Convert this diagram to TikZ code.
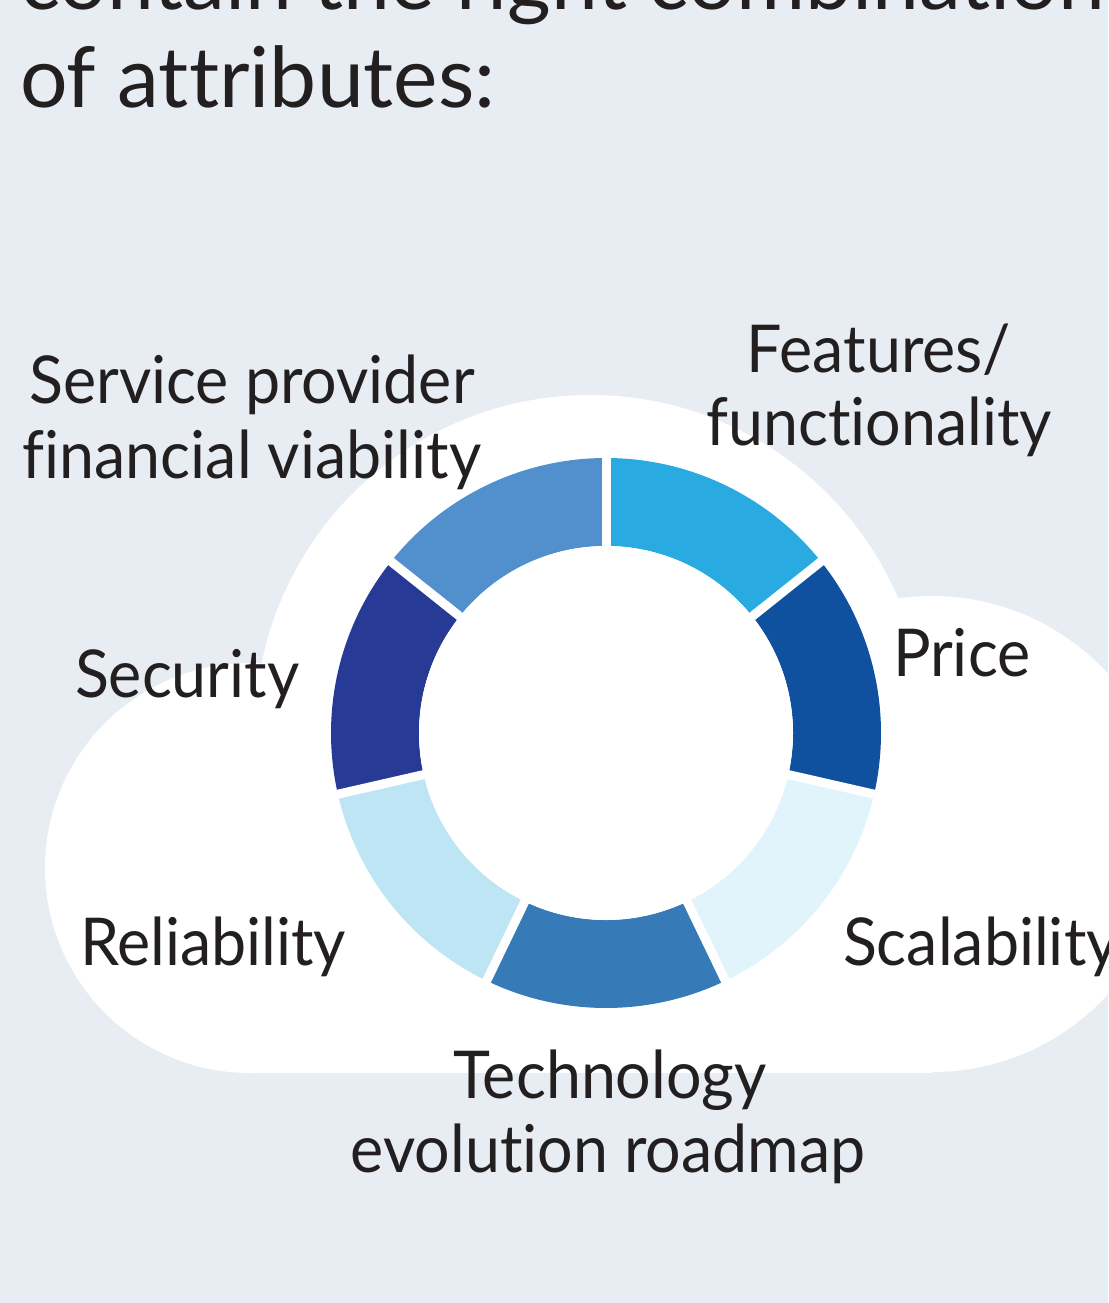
\documentclass[tikz,border=0pt]{standalone}
\usepackage{fontspec}
\setmainfont{Lato}[Ligatures={NoCommon,NoDiscretionary}]
\newfontfamily\labelfont{Lato}[Ligatures={NoCommon,NoDiscretionary},FakeStretch=0.95]
\begin{document}
\begin{tikzpicture}[x=1pt,y=1pt,
  lbl/.style={inner sep=0pt,outer sep=0pt,text=inkdark,font=\labelfont\fontsize{66}{80}\selectfont},
  ttl/.style={inner sep=0pt,outer sep=0pt,text=inkdark,font=\fontsize{84}{100}\selectfont},
  gapline/.style={white,line width=9pt}]
\definecolor{bgpanel}{HTML}{E7EDF2}
\definecolor{inkdark}{HTML}{231F20}
\definecolor{segA}{HTML}{29ABE2}
\definecolor{segB}{HTML}{10519F}
\definecolor{segC}{HTML}{E1F3FB}
\definecolor{segD}{HTML}{367AB8}
\definecolor{segE}{HTML}{BEE5F4}
\definecolor{segF}{HTML}{263A96}
\definecolor{segG}{HTML}{5290CD}

% page and background
\useasboundingbox (0,0) rectangle (1108,-1303);
\fill[bgpanel] (0,0) rectangle (1108,-1303);

\begin{scope}
\clip (0,0) rectangle (1108,-1303);

% cloud
\fill[white] (250,-868) circle[radius=205];
\fill[white] (590,-730) circle[radius=335];
\fill[white] (932,-834) circle[radius=238];
\fill[white] (250,-800) rectangle (932,-1073);

% heading
\node[ttl,anchor=base west] (head1) at (20,-10) {contain the right combination};
\node[ttl,anchor=base west] (head2) at (20,-108) {of attributes:};

% ring of seven attributes
\coordinate (ctr) at (606,-733);
\def\Ro{275}
\def\Ri{187}
\foreach \a/\b/\c in {90/38.571/segA, 38.571/-12.857/segB, -12.857/-64.286/segC,
    -64.286/-115.714/segD, -115.714/-167.143/segE, -167.143/-218.571/segF,
    -218.571/-270/segG}{
  \fill[\c] ([shift={(\a:\Ro)}]ctr) arc[start angle=\a,end angle=\b,radius=\Ro]
     -- ([shift={(\b:\Ri)}]ctr) arc[start angle=\b,end angle=\a,radius=\Ri] -- cycle;
}
\foreach \a in {90,38.571,-12.857,-64.286,-115.714,-167.143,-218.571}{
  \draw[gapline] (ctr) -- ([shift={(\a:\Ro+6)}]ctr);
}
\fill[white] (ctr) circle[radius=\Ri];

% labels
\node[lbl,anchor=base] (sp1) at (252,-403) {Service provider};
\node[lbl,anchor=base] (sp2) at (252,-478) {financial viability};
\node[lbl,anchor=base] (ft1) at (879,-372) {Features/};
\node[lbl,anchor=base] (ft2) at (879,-445) {functionality};
\node[lbl,anchor=base west] (pr) at (893,-676) {Price};
\node[lbl,anchor=base west] (se) at (75,-697) {Security};
\node[lbl,anchor=base west] (re) at (80,-965) {Reliability};
\node[lbl,anchor=base west] (sc) at (843,-965) {Scalability};
\node[lbl,anchor=base] (te1) at (610,-1098) {Technology};
\node[lbl,anchor=base] (te2) at (608,-1172) {evolution roadmap};
\end{scope}
\end{tikzpicture}
\end{document}
